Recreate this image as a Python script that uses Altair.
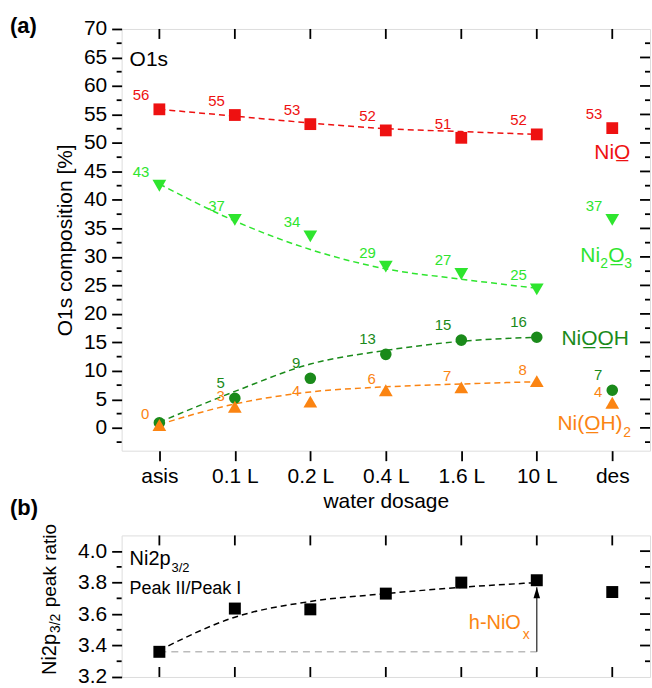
import altair as alt
import pandas as pd

# ---------------- data ----------------
categories = ["asis", "0.1 L", "0.2 L", "0.4 L", "1.6 L", "10 L", "des"]
fit_categories = ["asis", "0.1 L", "0.2 L", "0.4 L", "1.6 L", "10 L"]

nio = [55.9, 54.9, 53.3, 52.2, 50.9, 51.5, 52.6]
nio_labels = ["56", "55", "53", "52", "51", "52", "53"]
nio_fit = [55.9, 54.7, 53.5, 52.5, 52.0, 51.5]

ni2o3 = [42.5, 36.5, 33.6, 28.3, 27.0, 24.3, 36.5]
ni2o3_labels = ["43", "37", "34", "29", "27", "25", "37"]
ni2o3_fit = [42.8, 36.3, 31.3, 27.9, 26.1, 24.5]

niooh = [0.9, 5.2, 8.7, 12.9, 15.4, 15.9, 6.6]
niooh_labels = ["", "5", "9", "13", "15", "16", "7"]
niooh_fit = [1.0, 6.4, 11.2, 13.6, 15.2, 15.9]

nioh2 = [0.5, 3.7, 4.6, 6.6, 7.1, 8.2, 4.4]
nioh2_labels = ["0", "3", "4", "6", "7", "8", "4"]
nioh2_fit = [0.6, 4.2, 6.3, 7.2, 7.7, 8.1]

ratio = [3.36, 3.635, 3.63, 3.73, 3.80, 3.815, 3.74]
ratio_fit = [3.37, 3.58, 3.68, 3.73, 3.77, 3.80]
ratio_base = 3.36
arrow_top = 3.77

series_values = [nio, ni2o3, niooh, nioh2]
series_labels = [nio_labels, ni2o3_labels, niooh_labels, nioh2_labels]
series_fits = [nio_fit, ni2o3_fit, niooh_fit, nioh2_fit]
series_colors = ["#ee1111", "#2ee52e", "#1a8a1a", "#fb8412"]
series_shapes = ["square", "triangle-down", "circle", "triangle-up"]
series_sizes = [140, 190, 135, 190]
series_label_dy = [-14, -14, -15, -11]

# series names drawn at the right (pieces: text, dx, dy, size)
name_y = [48.3, 30.1, 15.6, 0.7]
name_pieces = [
    [("NiO\u0332", -18, 0, 21)],
    [("Ni", -32, 0, 21), ("2", -12, 8, 14), ("O\u0332", -4, 0, 21), ("3", 12, 8, 14)],
    [("NiO\u0332O\u0332H", -51, 0, 21)],
    [("Ni(O\u0332H)", -55, 0, 21), ("2", 11, 9, 14)],
]

y_major_a = [0, 5, 10, 15, 20, 25, 30, 35, 40, 45, 50, 55, 60, 65, 70]
y_minor_a = [-2.5, 2.5, 7.5, 12.5, 17.5, 22.5, 27.5, 32.5, 37.5, 42.5, 47.5, 52.5, 57.5, 62.5, 67.5]
y_major_b = [3.2, 3.4, 3.6, 3.8, 4.0]
y_minor_b = [3.3, 3.5, 3.7, 3.9]

FONT = "Liberation Sans, Arial, sans-serif"
W = 530
HA = 423
HB = 142

xscale = alt.Scale(type="point", domain=categories, padding=0.5)
ya_scale = alt.Scale(domain=[-4, 70], nice=False, zero=False)
yb_scale = alt.Scale(domain=[3.2, 4.1], nice=False, zero=False)

axis_common = dict(domain=False, grid=False, tickColor="black", tickWidth=1.8,
                   labelColor="black", titleColor="black", labelFont=FONT,
                   titleFont=FONT, titleFontWeight="normal")

xa = alt.X("cat:N", scale=xscale, sort=categories,
           axis=alt.Axis(title="water dosage", labelAngle=0, tickSize=10,
                         labelFontSize=21, titleFontSize=21, labelPadding=5,
                         titlePadding=4, **axis_common))
ya = alt.Y("val:Q", scale=ya_scale,
           axis=alt.Axis(values=y_major_a, format="d", tickSize=10, labelFontSize=21,
                         labelPadding=5, title="O1s composition [%]",
                         titleFontSize=21, titlePadding=8, **axis_common))
xb = alt.X("cat:N", scale=xscale, sort=categories, axis=None)
yb = alt.Y("val:Q", scale=yb_scale,
           axis=alt.Axis(values=y_major_b, format=".1f", tickSize=10, labelFontSize=21,
                         labelPadding=5, title=None, **axis_common))


def txt(text, x, y, size, color="black", weight="normal", align="left", angle=0):
    kw = dict(align=align, baseline="middle", fontSize=size, color=color,
              fontWeight=weight, font=FONT)
    if angle:
        kw["angle"] = angle
        kw["baseline"] = "alphabetic"
    return alt.Chart(pd.DataFrame({"t": [text]})).mark_text(**kw).encode(
        x=alt.value(x), y=alt.value(y), text="t:N")


# ---------------- panel (a) ----------------
layers_a = []
for fit, col in zip(series_fits, series_colors):
    df = pd.DataFrame({"cat": fit_categories, "val": fit})
    layers_a.append(alt.Chart(df).mark_line(color=col, strokeDash=[6, 4], strokeWidth=1.5,
                                            interpolate="monotone").encode(x=xa, y=ya))
for vals, col, shp, sz in zip(series_values, series_colors, series_shapes, series_sizes):
    df = pd.DataFrame({"cat": categories, "val": vals})
    layers_a.append(alt.Chart(df).mark_point(shape=shp, size=sz, filled=True, opacity=1,
                                             color=col).encode(x=xa, y=ya))
for vals, labs, col, ldy in zip(series_values, series_labels, series_colors, series_label_dy):
    df = pd.DataFrame({"cat": categories, "val": vals, "lab": labs})
    df = df[df["lab"] != ""]
    layers_a.append(alt.Chart(df).mark_text(color=col, align="right", baseline="middle",
                                            dx=-10, dy=ldy, fontSize=15, font=FONT)
                    .encode(x=xa, y=ya, text="lab:N"))
for pieces, yv, col in zip(name_pieces, name_y, series_colors):
    for (t, dx, dy, fs) in pieces:
        df = pd.DataFrame({"cat": ["des"], "val": [yv], "t": [t]})
        layers_a.append(alt.Chart(df).mark_text(color=col, align="left", baseline="middle",
                                                dx=dx, dy=dy, fontSize=fs, font=FONT)
                        .encode(x=xa, y=ya, text="t:N"))

# ticks: left minor (outward), right (inward), top (inward)
layers_a.append(alt.Chart(pd.DataFrame({"val": y_minor_a})).mark_rule(color="black", strokeWidth=1.8)
                .encode(y=ya, x=alt.value(-5), x2=alt.value(0)))
layers_a.append(alt.Chart(pd.DataFrame({"val": y_major_a[:-1]})).mark_rule(color="black", strokeWidth=1.8)
                .encode(y=ya, x=alt.value(W), x2=alt.value(W - 10)))
layers_a.append(alt.Chart(pd.DataFrame({"val": y_minor_a})).mark_rule(color="black", strokeWidth=1.8)
                .encode(y=ya, x=alt.value(W), x2=alt.value(W - 5)))
layers_a.append(alt.Chart(pd.DataFrame({"cat": categories})).mark_rule(color="black", strokeWidth=1.8)
                .encode(x=xa, y=alt.value(0), y2=alt.value(10)))

layers_a.append(txt("O1s", 8, 31, 21))
layers_a.append(txt("(a)", -112, -3, 22, weight="bold"))
layers_a.append(txt("(b)", -112, 481, 22, weight="bold"))

panel_a = alt.layer(*layers_a).properties(width=W, height=HA)

# ---------------- panel (b) ----------------
layers_b = []
layers_b.append(alt.Chart(pd.DataFrame({"cat": ["asis"], "cat2": ["10 L"], "val": [ratio_base]}))
                .mark_rule(color="#bbbbbb", strokeDash=[7, 5], strokeWidth=1.5)
                .encode(x=xb, x2="cat2:N", y=yb))
layers_b.append(alt.Chart(pd.DataFrame({"cat": ["10 L"], "val": [ratio_base], "val2": [arrow_top]}))
                .mark_rule(color="#333333", strokeWidth=1.3)
                .encode(x=xb, y=yb, y2="val2:Q"))
layers_b.append(alt.Chart(pd.DataFrame({"cat": ["10 L"], "val": [arrow_top - 0.035]}))
                .mark_point(shape="M0,-1L0.6,1L-0.6,1Z", size=121, filled=True, opacity=1, color="black")
                .encode(x=xb, y=yb))
layers_b.append(alt.Chart(pd.DataFrame({"cat": fit_categories, "val": ratio_fit}))
                .mark_line(color="black", strokeDash=[6, 4], strokeWidth=1.5, interpolate="monotone")
                .encode(x=xb, y=yb))
layers_b.append(alt.Chart(pd.DataFrame({"cat": categories, "val": ratio}))
                .mark_point(shape="square", size=144, filled=True, opacity=1, color="black")
                .encode(x=xb, y=yb))
layers_b.append(alt.Chart(pd.DataFrame({"cat": ["10 L"], "val": [3.54], "t": ["h-NiO"]}))
                .mark_text(color="#fb8412", align="right", baseline="middle", dx=-16, fontSize=20, font=FONT)
                .encode(x=xb, y=yb, text="t:N"))
layers_b.append(alt.Chart(pd.DataFrame({"cat": ["10 L"], "val": [3.54], "t": ["x"]}))
                .mark_text(color="#fb8412", align="left", baseline="middle", dx=-14, dy=12, fontSize=14, font=FONT)
                .encode(x=xb, y=yb, text="t:N"))

layers_b.append(alt.Chart(pd.DataFrame({"val": y_minor_b})).mark_rule(color="black", strokeWidth=1.8)
                .encode(y=yb, x=alt.value(-5), x2=alt.value(0)))
layers_b.append(alt.Chart(pd.DataFrame({"val": y_major_b[1:]})).mark_rule(color="black", strokeWidth=1.8)
                .encode(y=yb, x=alt.value(W), x2=alt.value(W - 10)))
layers_b.append(alt.Chart(pd.DataFrame({"val": y_minor_b})).mark_rule(color="black", strokeWidth=1.8)
                .encode(y=yb, x=alt.value(W), x2=alt.value(W - 5)))
layers_b.append(alt.Chart(pd.DataFrame({"cat": categories})).mark_rule(color="black", strokeWidth=1.8)
                .encode(x=xb, y=alt.value(0), y2=alt.value(10)))
layers_b.append(alt.Chart(pd.DataFrame({"cat": categories})).mark_rule(color="black", strokeWidth=1.8)
                .encode(x=xb, y=alt.value(HB), y2=alt.value(HB - 10)))

layers_b.append(txt("Ni2p", 8, 24, 20))
layers_b.append(txt("3/2", 50, 33, 13))
layers_b.append(txt("Peak II/Peak I", 8, 54, 18))
# rotated y title
layers_b.append(txt("Ni2p", -66, 140, 20, angle=270))
layers_b.append(txt("3/2", -62, 98, 14, angle=270))
layers_b.append(txt("peak ratio", -66, 72, 19, angle=270))

panel_b = alt.layer(*layers_b).properties(width=W, height=HB)

chart = alt.vconcat(panel_a, panel_b, spacing=85, bounds="flush").properties(
    padding={"left": 9, "top": 13, "right": 0, "bottom": 0}
).configure_view(stroke="black", strokeWidth=2).configure(font=FONT)

chart.save("out.html", embed_options={"renderer": "svg", "actions": False})
